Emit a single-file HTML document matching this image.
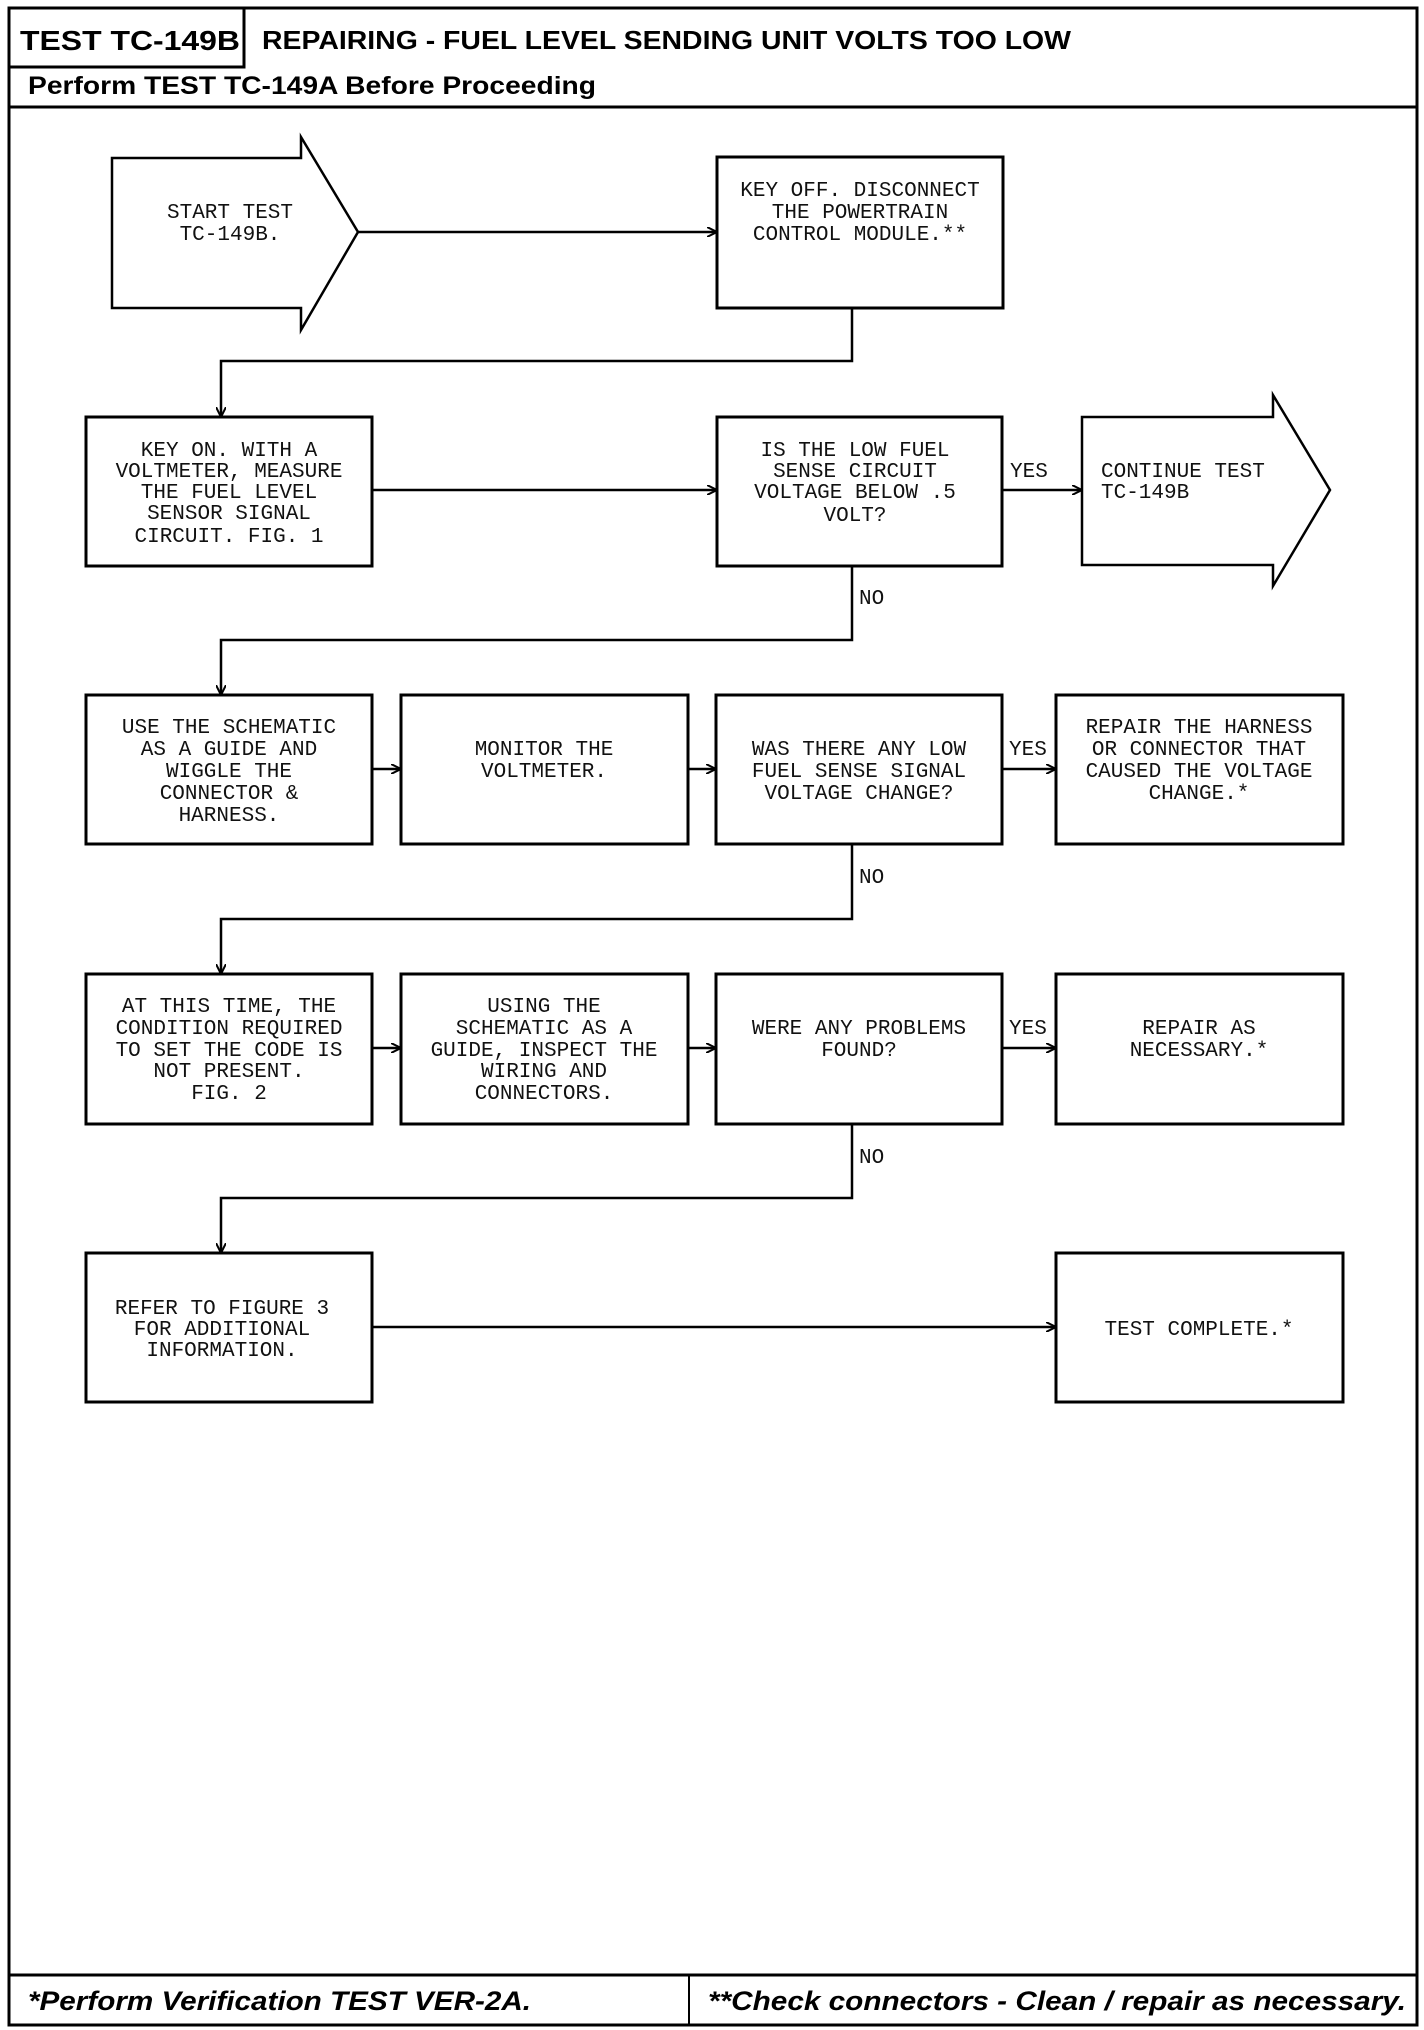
<!DOCTYPE html>
<html><head><meta charset="utf-8"><style>
html,body{margin:0;padding:0;background:#fff;}
svg{display:block;}
.h{font-family:"Liberation Sans",sans-serif;font-weight:bold;}
.t{font-family:"Liberation Mono",monospace;font-size:21px;fill:#111;text-anchor:middle;}
.l{font-family:"Liberation Mono",monospace;font-size:21px;fill:#111;}
</style></head><body>
<svg width="1424" height="2030" viewBox="0 0 1424 2030" xmlns="http://www.w3.org/2000/svg">
<defs><marker id="a" markerWidth="10" markerHeight="10" refX="9" refY="5" orient="auto" markerUnits="userSpaceOnUse"><path d="M0,0 L10,5 L0,10" fill="none" stroke="#000" stroke-width="2"/></marker></defs>
<g fill="none" stroke="#000" stroke-width="3">
<rect x="9" y="8" width="1408" height="2017"/>
<rect x="9" y="8" width="235" height="59"/>
<line x1="9" y1="107" x2="1417" y2="107"/>
<line x1="9" y1="1975" x2="1417" y2="1975"/>
<line x1="689" y1="1975" x2="689" y2="2025" stroke-width="2"/>
<!-- start arrow -->
<path d="M112,158 L301,158 L301,137 L358,232 L301,330 L301,308 L112,308 Z" stroke-width="2.5"/>
<path d="M1082,417 L1273,417 L1273,395 L1330,490 L1273,586 L1273,565 L1082,565 Z" stroke-width="2.5"/>
<rect x="717" y="157" width="286" height="151"/>
<rect x="86" y="417" width="286" height="149"/>
<rect x="717" y="417" width="285" height="149"/>
<rect x="86" y="695" width="286" height="149"/>
<rect x="401" y="695" width="287" height="149"/>
<rect x="716" y="695" width="286" height="149"/>
<rect x="1056" y="695" width="287" height="149"/>
<rect x="86" y="974" width="286" height="150"/>
<rect x="401" y="974" width="287" height="150"/>
<rect x="716" y="974" width="286" height="150"/>
<rect x="1056" y="974" width="287" height="150"/>
<rect x="86" y="1253" width="286" height="149"/>
<rect x="1056" y="1253" width="287" height="149"/>
</g>
<g fill="none" stroke="#000" stroke-width="2.5" marker-end="url(#a)">
<line x1="358" y1="232" x2="716" y2="232"/>
<polyline points="852,308 852,361 221,361 221,416"/>
<line x1="372" y1="490" x2="716" y2="490"/>
<line x1="1002" y1="490" x2="1081" y2="490"/>
<polyline points="852,566 852,640 221,640 221,694"/>
<line x1="372" y1="769" x2="400" y2="769"/>
<line x1="688" y1="769" x2="715" y2="769"/>
<line x1="1002" y1="769" x2="1055" y2="769"/>
<polyline points="852,844 852,919 221,919 221,973"/>
<line x1="372" y1="1048" x2="400" y2="1048"/>
<line x1="688" y1="1048" x2="715" y2="1048"/>
<line x1="1002" y1="1048" x2="1055" y2="1048"/>
<polyline points="852,1124 852,1198 221,1198 221,1252"/>
<line x1="372" y1="1327" x2="1055" y2="1327"/>
</g>
<text class="h" x="20" y="50" font-size="28" textLength="220" lengthAdjust="spacingAndGlyphs">TEST TC-149B</text>
<text class="h" x="262" y="49" font-size="26" textLength="809" lengthAdjust="spacingAndGlyphs">REPAIRING - FUEL LEVEL SENDING UNIT VOLTS TOO LOW</text>
<text class="h" x="28" y="94" font-size="25" textLength="568" lengthAdjust="spacingAndGlyphs">Perform TEST TC-149A Before Proceeding</text>
<text class="h" x="28" y="2010" font-size="27" font-style="italic" textLength="503" lengthAdjust="spacingAndGlyphs">*Perform Verification TEST VER-2A.</text>
<text class="h" x="708" y="2010" font-size="27" font-style="italic" textLength="698" lengthAdjust="spacingAndGlyphs">**Check connectors - Clean / repair as necessary.</text>
<g class="t">
<text x="230" y="218">START TEST</text><text x="230" y="240">TC-149B.</text>
<text x="860" y="196">KEY OFF. DISCONNECT</text><text x="860" y="218">THE POWERTRAIN</text><text x="860" y="240">CONTROL MODULE.**</text>
<text x="229" y="456">KEY ON. WITH A</text><text x="229" y="477">VOLTMETER, MEASURE</text><text x="229" y="498">THE FUEL LEVEL</text><text x="229" y="519">SENSOR SIGNAL</text><text x="229" y="542">CIRCUIT. FIG. 1</text>
<text x="855" y="456">IS THE LOW FUEL</text><text x="855" y="477">SENSE CIRCUIT</text><text x="855" y="498">VOLTAGE BELOW .5</text><text x="855" y="521">VOLT?</text>
<text x="229" y="733">USE THE SCHEMATIC</text><text x="229" y="755">AS A GUIDE AND</text><text x="229" y="777">WIGGLE THE</text><text x="229" y="799">CONNECTOR &amp;</text><text x="229" y="821">HARNESS.</text>
<text x="544" y="755">MONITOR THE</text><text x="544" y="777">VOLTMETER.</text>
<text x="859" y="755">WAS THERE ANY LOW</text><text x="859" y="777">FUEL SENSE SIGNAL</text><text x="859" y="799">VOLTAGE CHANGE?</text>
<text x="1199" y="733">REPAIR THE HARNESS</text><text x="1199" y="755">OR CONNECTOR THAT</text><text x="1199" y="777">CAUSED THE VOLTAGE</text><text x="1199" y="799">CHANGE.*</text>
<text x="229" y="1012">AT THIS TIME, THE</text><text x="229" y="1034">CONDITION REQUIRED</text><text x="229" y="1056">TO SET THE CODE IS</text><text x="229" y="1077">NOT PRESENT.</text><text x="229" y="1099">FIG. 2</text>
<text x="544" y="1012">USING THE</text><text x="544" y="1034">SCHEMATIC AS A</text><text x="544" y="1056">GUIDE, INSPECT THE</text><text x="544" y="1077">WIRING AND</text><text x="544" y="1099">CONNECTORS.</text>
<text x="859" y="1034">WERE ANY PROBLEMS</text><text x="859" y="1056">FOUND?</text>
<text x="1199" y="1034">REPAIR AS</text><text x="1199" y="1056">NECESSARY.*</text>
<text x="222" y="1314">REFER TO FIGURE 3</text><text x="222" y="1335">FOR ADDITIONAL</text><text x="222" y="1356">INFORMATION.</text>
<text x="1199" y="1335">TEST COMPLETE.*</text>
</g>
<g class="l">
<text x="1101" y="477">CONTINUE TEST</text><text x="1101" y="498">TC-149B</text>
<text x="1010" y="477">YES</text>
<text x="1009" y="755">YES</text>
<text x="1009" y="1034">YES</text>
<text x="859" y="604">NO</text>
<text x="859" y="883">NO</text>
<text x="859" y="1163">NO</text>
</g>
</svg>
</body></html>
